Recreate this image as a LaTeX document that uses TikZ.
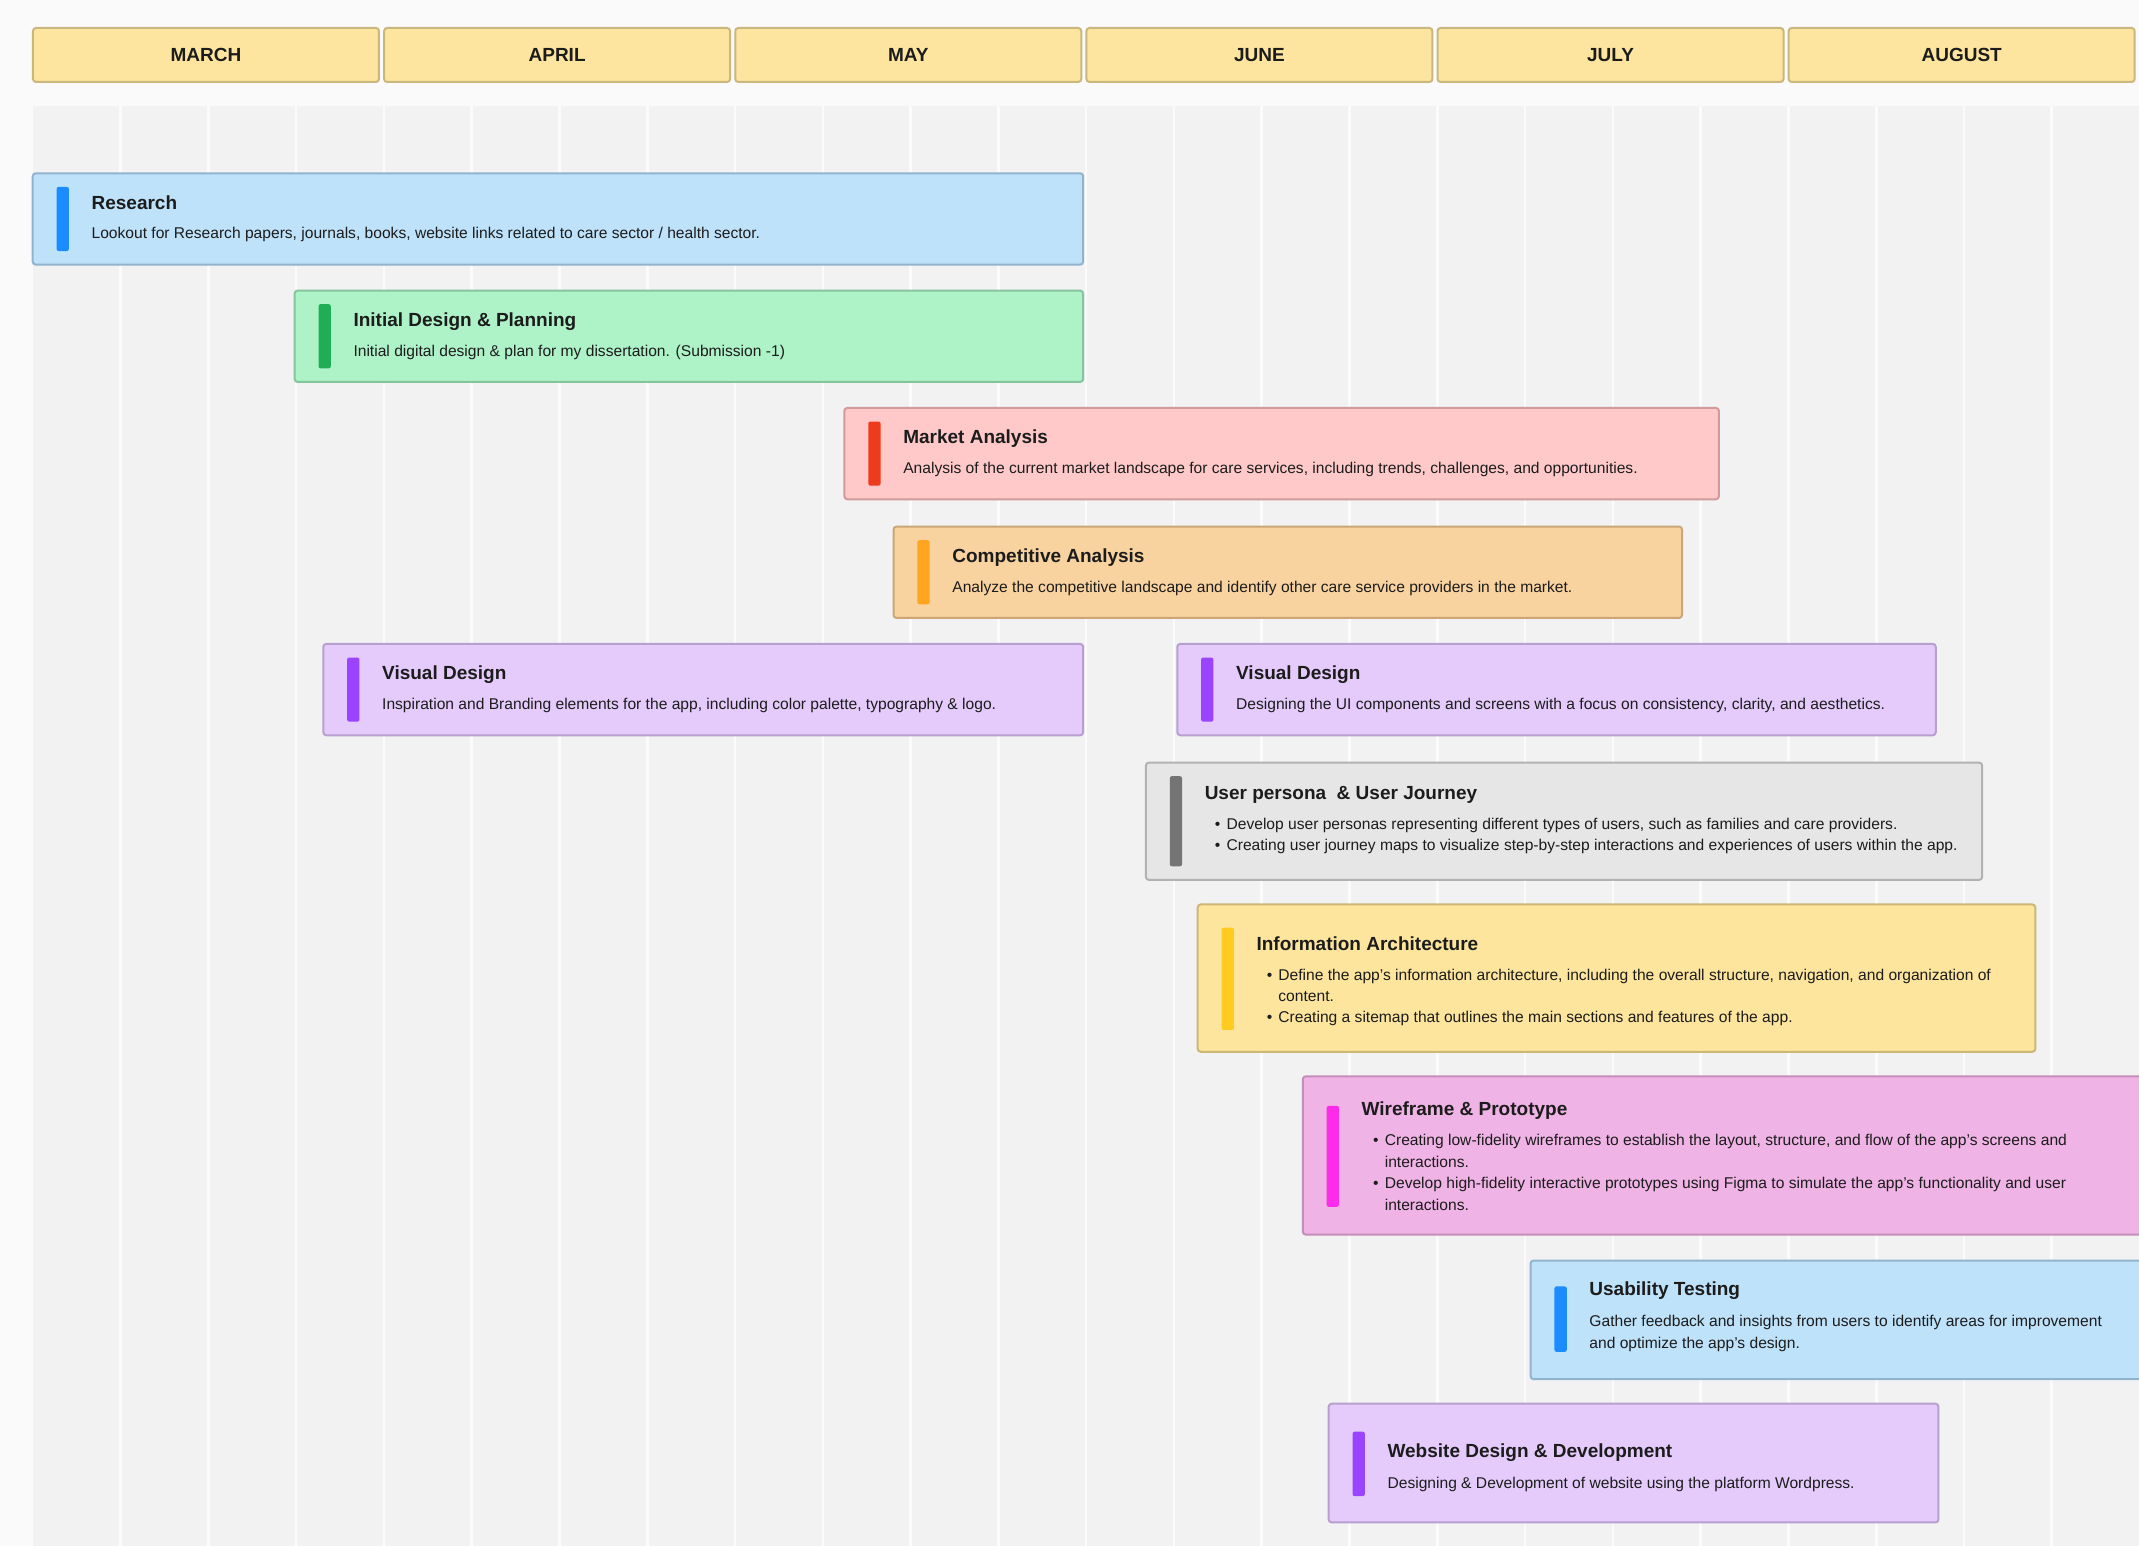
\documentclass[tikz,border=0pt]{standalone}
\usepackage{fontspec}
\setmainfont{Liberation Sans}
\definecolor{pagebg}{HTML}{FAFAFA}
\definecolor{gridbg}{HTML}{F2F2F2}
\definecolor{gridln}{HTML}{FBFBFB}
\definecolor{hdrfill}{HTML}{FEE59F}
\definecolor{hdrline}{HTML}{C9B77E}
\definecolor{txt}{HTML}{1C1C1C}
\definecolor{bluefill}{HTML}{BEE2FA}
\definecolor{blueline}{HTML}{92B3CD}
\definecolor{blueacc}{HTML}{1A8CFF}
\definecolor{greenfill}{HTML}{AEF2C8}
\definecolor{greenline}{HTML}{86C49E}
\definecolor{greenacc}{HTML}{1FAE55}
\definecolor{redfill}{HTML}{FFC9C9}
\definecolor{redline}{HTML}{D29A9A}
\definecolor{redacc}{HTML}{EF3B1D}
\definecolor{orangefill}{HTML}{F9D39F}
\definecolor{orangeline}{HTML}{CDA676}
\definecolor{orangeacc}{HTML}{FFA51F}
\definecolor{purplefill}{HTML}{E4CBFB}
\definecolor{purpleline}{HTML}{B7A0D0}
\definecolor{purpleacc}{HTML}{9A44FF}
\definecolor{greyfill}{HTML}{E6E6E6}
\definecolor{greyline}{HTML}{B2B2B2}
\definecolor{greyacc}{HTML}{747474}
\definecolor{yellowfill}{HTML}{FDE59E}
\definecolor{yellowline}{HTML}{CDB777}
\definecolor{yellowacc}{HTML}{FFCB20}
\definecolor{pinkfill}{HTML}{EFB3E5}
\definecolor{pinkline}{HTML}{C48DBA}
\definecolor{pinkacc}{HTML}{FF2BEA}
\tikzset{
  hdr/.style={draw=hdrline, fill=hdrfill, line width=2pt, rounded corners=3pt,
    minimum width=346pt, minimum height=54pt, inner sep=0pt,
    font=\fontsize{19}{22}\selectfont\bfseries, text=txt,
    text height=13.6pt, text depth=0pt},
  ttl/.style={anchor=base west, inner sep=0pt, text=txt,
    font=\fontsize{19}{22}\selectfont\bfseries},
  dsc/.style={anchor=base west, inner sep=0pt, text=txt,
    font=\fontsize{15.6}{18}\selectfont},
  gridline/.style={draw=gridln, line width=2.6pt},
}
% #1 colour prefix, #2 x1, #3 y1, #4 x2, #5 y2, #6 accent top, #7 accent bottom
\newcommand\taskrect[7]{%
  \path[draw=#1line, fill=#1fill, line width=2pt, rounded corners=3pt]
    (#2,#3) rectangle (#4,#5);
  \path[fill=#1acc, rounded corners=2pt]
    ({#2+17.5},#6) rectangle ({#2+26.5},#7);
}
\newcommand\bul[4]{%
  \node[dsc] (#1b) at ({#2},#3) {•};
  \node[dsc] (#1) at ({#2+8.5},#3) {#4};
}
\begin{document}
\begin{tikzpicture}[x=1.36416pt,y=-1.36416pt]
\useasboundingbox (0,0) rectangle (1568,1133);
\clip (0,0) rectangle (1568,1133);
\fill[pagebg] (0,0) rectangle (1568,1133);
\fill[gridbg] (24,78) rectangle (1568,1133);
\foreach \k in {1,...,23} {
  \draw[gridline] ({24+64.35*\k},78) -- ({24+64.35*\k},1133);
}
% month header
\foreach \i/\m in {0/MARCH,1/APRIL,2/MAY,3/JUNE,4/JULY,5/AUGUST} {
  \node[hdr] (m\m) at ({151+257.4*\i},40.3) {\m};
}
% Research
\taskrect{blue}{24}{127}{794}{194}{137}{184}
\node[ttl] (t1) at (67,153.4) {Research};
\node[dsc] (d1) at (67,175) {Lookout for Research papers, journals, books, website links related to care sector / health sector.};
% Initial Design & Planning
\taskrect{green}{216}{213}{794}{280}{223}{270}
\node[ttl] (t2) at (259,239.4) {Initial Design \& Planning};
\node[dsc] (d2) at (259,261) {Initial digital design \& plan for my dissertation. (Submission -1)};
% Market Analysis
\taskrect{red}{619}{299}{1260}{366}{309}{356}
\node[ttl] (t3) at (662,325.4) {Market Analysis};
\node[dsc] (d3) at (662,347) {Analysis of the current market landscape for care services, including trends, challenges, and opportunities.};
% Competitive Analysis
\taskrect{orange}{655}{386}{1233}{453}{396}{443}
\node[ttl] (t4) at (698,412.4) {Competitive Analysis};
\node[dsc] (d4) at (698,434) {Analyze the competitive landscape and identify other care service providers in the market.};
% Visual Design 1
\taskrect{purple}{237}{472}{794}{539}{482}{529}
\node[ttl] (t5) at (280,498.4) {Visual Design};
\node[dsc] (d5) at (280,520) {Inspiration and Branding elements for the app, including color palette, typography \& logo.};
% Visual Design 2
\taskrect{purple}{863}{472}{1419}{539}{482}{529}
\node[ttl] (t6) at (906,498.4) {Visual Design};
\node[dsc] (d6) at (906,520) {Designing the UI components and screens with a focus on consistency, clarity, and aesthetics.};
% User persona
\taskrect{grey}{840}{559}{1453}{645}{569}{635}
\node[ttl] (t7) at (883,586) {User persona\ \ \& User Journey};
\bul{d7a}{890.5}{608}{Develop user personas representing different types of users, such as families and care providers.}
\bul{d7b}{890.5}{623.6}{Creating user journey maps to visualize step-by-step interactions and experiences of users within the app.}
% Information Architecture
\taskrect{yellow}{878}{663}{1492}{771}{680}{755}
\node[ttl] (t8) at (921,697) {Information Architecture};
\bul{d8a}{928.5}{718.5}{Define the app's information architecture, including the overall structure, navigation, and organization of}
\node[dsc] (d8c) at (937,734) {content.};
\bul{d8b}{928.5}{749.5}{Creating a sitemap that outlines the main sections and features of the app.}
% Wireframe & Prototype
\taskrect{pink}{955}{789}{1590}{905}{810.7}{884.6}
\node[ttl] (t9) at (998,817.4) {Wireframe \& Prototype};
\bul{d9a}{1006.5}{839.5}{Creating low-fidelity wireframes to establish the layout, structure, and flow of the app's screens and}
\node[dsc] (d9c) at (1015,855.5) {interactions.};
\bul{d9b}{1006.5}{871.5}{Develop high-fidelity interactive prototypes using Figma to simulate the app's functionality and user}
\node[dsc] (d9d) at (1015,887.5) {interactions.};
% Usability Testing
\taskrect{blue}{1122}{924}{1590}{1011}{943}{991}
\node[ttl] (t10) at (1165,949.3) {Usability Testing};
\node[dsc] (d10a) at (1165,972.5) {Gather feedback and insights from users to identify areas for improvement};
\node[dsc] (d10b) at (1165,988.4) {and optimize the app's design.};
% Website Design & Development
\taskrect{purple}{974}{1029}{1421}{1116}{1049.5}{1096.7}
\node[ttl] (t11) at (1017,1068.3) {Website Design \& Development};
\node[dsc] (d11) at (1017,1091) {Designing \& Development of website using the platform Wordpress.};
\end{tikzpicture}
\end{document}
